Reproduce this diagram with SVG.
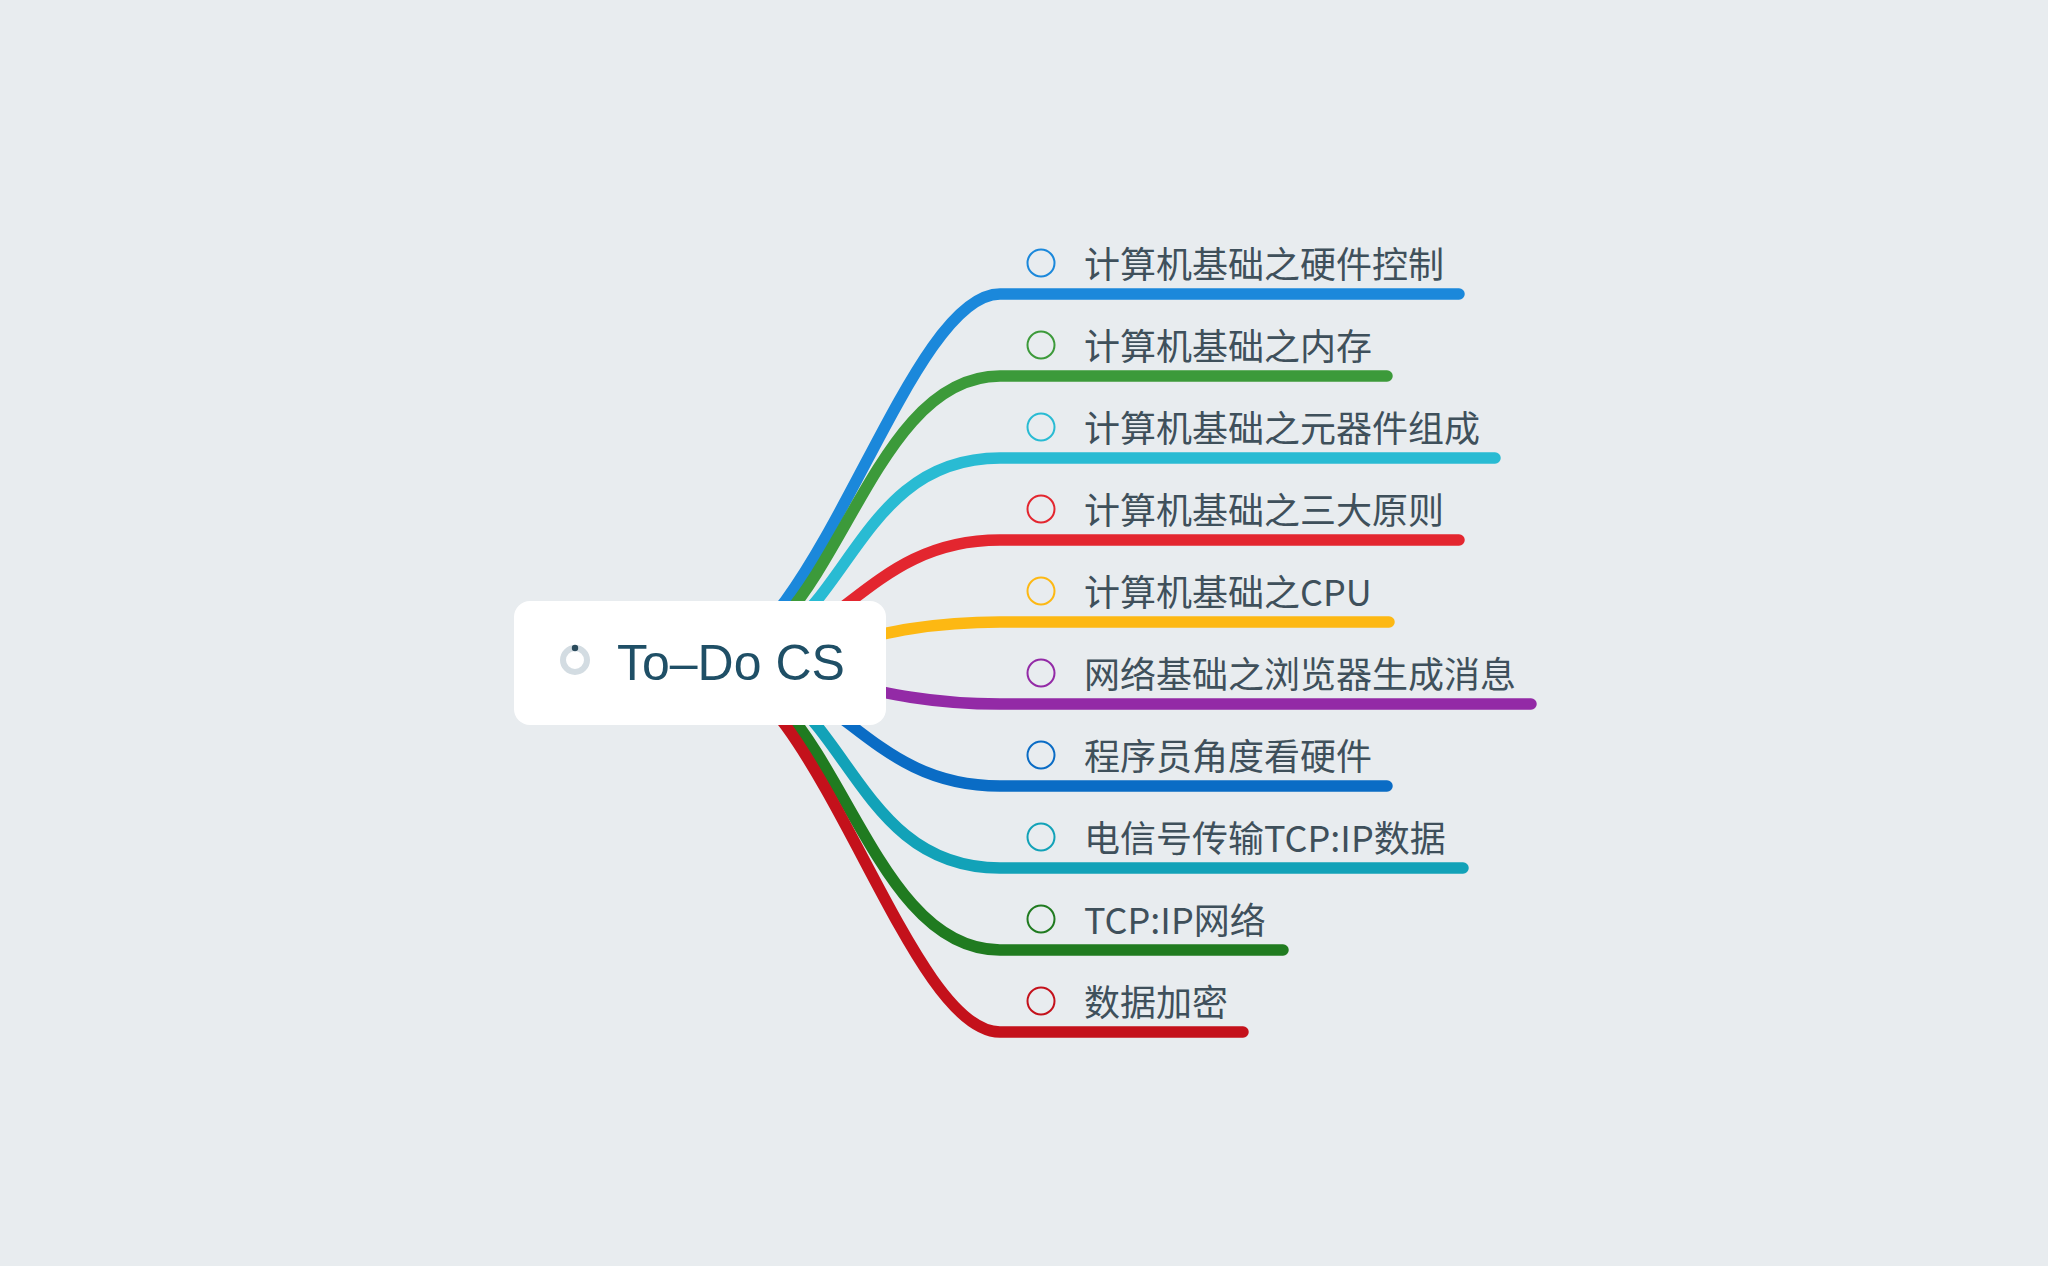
<svg xmlns="http://www.w3.org/2000/svg" width="2048" height="1266" viewBox="0 0 2048 1266">
<style>
.bg{fill:#e8ecef}
.link{fill:none;stroke-width:11.5;stroke-linecap:round}
.chk{fill:none;stroke-width:2}
.lbl{font-family:"Noto Sans CJK SC","Noto Sans",sans-serif;font-size:36px;fill:#3f505b}
.root{fill:#ffffff}
.rootlbl{font-family:"Liberation Sans","Noto Sans",sans-serif;font-size:50px;fill:#1f4f66}
</style>
<rect class="bg" x="0" y="0" width="2048" height="1266"/>
<g id="connectors">
<path class="link" stroke="#1b88db" d="M700 663 C815 663 905 294 1000 294 H1459"/>
<path class="link" stroke="#3c9a3a" d="M700 663 C835 663 860 376 1000 376 H1387"/>
<path class="link" stroke="#29bbd3" d="M700 663 C850 663 840 458 1000 458 H1495"/>
<path class="link" stroke="#e3262f" d="M700 663 C840 663 860 540 1000 540 H1459"/>
<path class="link" stroke="#fdb813" d="M700 663 C820 663 865 622 1000 622 H1389"/>
<path class="link" stroke="#932aa6" d="M700 663 C820 663 865 704 1000 704 H1531"/>
<path class="link" stroke="#0a6cc5" d="M700 663 C840 663 860 786 1000 786 H1387"/>
<path class="link" stroke="#12a2b8" d="M700 663 C850 663 840 868 1000 868 H1463"/>
<path class="link" stroke="#207b20" d="M700 663 C835 663 860 950 1000 950 H1283"/>
<path class="link" stroke="#c4111b" d="M700 663 C815 663 905 1032 1000 1032 H1243"/>
</g>
<g id="root">
<rect class="root" x="514" y="601" width="372" height="124" rx="16"/>
<circle cx="575" cy="660" r="12" fill="none" stroke="#d3dce2" stroke-width="6"/>
<circle cx="575" cy="648" r="3.2" fill="#2a4b5c"/>
<text class="rootlbl" x="617" y="680">To–Do CS</text>
</g>
<g id="n1"><circle class="chk" stroke="#1b88db" cx="1041" cy="263" r="13.5"/><text class="lbl" x="1084" y="278">计算机基础之硬件控制</text></g>
<g id="n2"><circle class="chk" stroke="#3c9a3a" cx="1041" cy="345" r="13.5"/><text class="lbl" x="1084" y="360">计算机基础之内存</text></g>
<g id="n3"><circle class="chk" stroke="#29bbd3" cx="1041" cy="427" r="13.5"/><text class="lbl" x="1084" y="442">计算机基础之元器件组成</text></g>
<g id="n4"><circle class="chk" stroke="#e3262f" cx="1041" cy="509" r="13.5"/><text class="lbl" x="1084" y="524">计算机基础之三大原则</text></g>
<g id="n5"><circle class="chk" stroke="#fdb813" cx="1041" cy="591" r="13.5"/><text class="lbl" x="1084" y="606">计算机基础之CPU</text></g>
<g id="n6"><circle class="chk" stroke="#932aa6" cx="1041" cy="673" r="13.5"/><text class="lbl" x="1084" y="688">网络基础之浏览器生成消息</text></g>
<g id="n7"><circle class="chk" stroke="#0a6cc5" cx="1041" cy="755" r="13.5"/><text class="lbl" x="1084" y="770">程序员角度看硬件</text></g>
<g id="n8"><circle class="chk" stroke="#12a2b8" cx="1041" cy="837" r="13.5"/><text class="lbl" x="1084" y="852">电信号传输TCP:IP数据</text></g>
<g id="n9"><circle class="chk" stroke="#207b20" cx="1041" cy="919" r="13.5"/><text class="lbl" x="1084" y="934">TCP:IP网络</text></g>
<g id="n10"><circle class="chk" stroke="#c4111b" cx="1041" cy="1001" r="13.5"/><text class="lbl" x="1084" y="1016">数据加密</text></g>
</svg>
